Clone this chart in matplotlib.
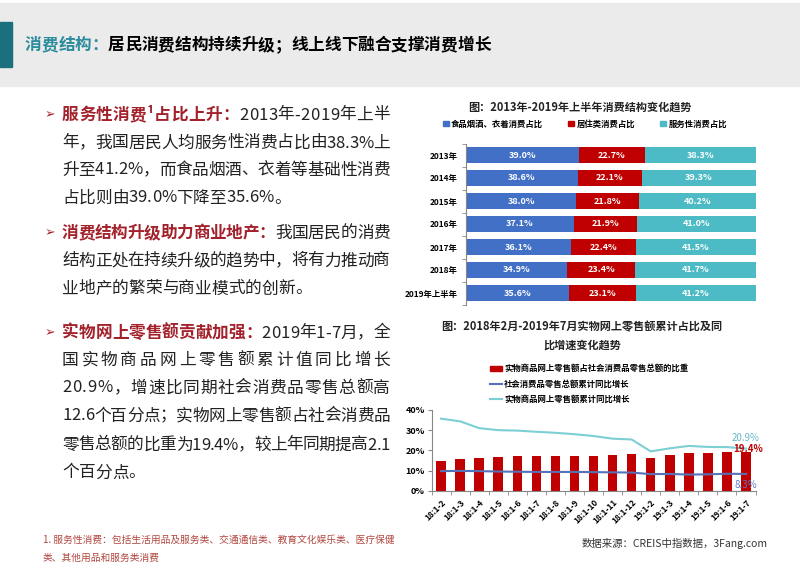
import matplotlib
matplotlib.use("Agg")
import matplotlib.pyplot as plt
from matplotlib.patches import Rectangle, Patch
from matplotlib.lines import Line2D
import numpy as np

plt.rcParams['font.family'] = ['Noto Sans CJK SC', 'DejaVu Sans']

# chart 1: consumption structure
years = ["2013年", "2014年", "2015年", "2016年", "2017年", "2018年", "2019年上半年"]
food = [39.0, 38.6, 38.0, 37.1, 36.1, 34.9, 35.6]
housing = [22.7, 22.1, 21.8, 21.9, 22.4, 23.4, 23.1]
service = [38.3, 39.3, 40.2, 41.0, 41.5, 41.7, 41.2]
names1 = ["食品烟酒、衣着消费占比", "居住类消费占比", "服务性消费占比"]

# chart 2: online retail
months = ["18:1-2", "18:1-3", "18:1-4", "18:1-5", "18:1-6", "18:1-7", "18:1-8", "18:1-9",
          "18:1-10", "18:1-11", "18:1-12", "19:1-2", "19:1-3", "19:1-4", "19:1-5",
          "19:1-6", "19:1-7"]
online_share = [14.8, 15.8, 16.1, 16.5, 17.1, 17.2, 17.2, 17.3, 17.3, 17.9, 18.2,
                16.4, 17.9, 18.5, 18.5, 19.3, 19.4]
retail_growth = [9.7, 9.8, 9.7, 9.5, 9.4, 9.3, 9.3, 9.3, 9.2, 9.1, 9.0,
                 8.2, 8.3, 8.0, 8.1, 8.4, 8.3]
online_growth = [35.7, 34.4, 31.0, 30.0, 29.8, 29.2, 28.7, 28.0, 27.1, 25.8, 25.4,
                 19.5, 21.0, 22.2, 21.7, 21.6, 20.9]
names2 = ["实物商品网上零售额占社会消费品零售总额的比重", "社会消费品零售总额累计同比增长",
          "实物商品网上零售额累计同比增长"]

W, H = 800, 565
blue = '#4170C6'
red = '#C00000'
teal = '#4DBBC5'
dark_red = '#A3212B'
body_col = '#222222'


def fx(x):
    return x / W


def fy(y):
    return 1 - y / H


fig = plt.figure(figsize=(8, 5.65), dpi=100)
renderer = fig.canvas.get_renderer()


def text_width(s, **kw):
    t = fig.text(0, 0, s, **kw)
    w = t.get_window_extent(renderer).width
    t.remove()
    return w


def adv(s, **kw):
    return text_width("国" + s + "国", **kw) - text_width("国国", **kw)


def draw_line(segs, y, x0=62, x1=390, justify=True):
    chars = []
    start = 0
    for s, kw in segs:
        for i, ch in enumerate(s):
            chars.append((ch, kw, start + adv(s[:i], **kw) if i else start))
        start += adv(s, **kw)
    gap = 0
    if justify and len(chars) > 1:
        gap = (x1 - x0 - start) / (len(chars) - 1)
    for i, (ch, kw, off) in enumerate(chars):
        fig.text(fx(x0 + off + i * gap), fy(y), ch, va='center', ha='left', **kw)


# header
fig.patches.append(Rectangle((0, fy(86)), 1, 83 / H, transform=fig.transFigure,
                             color='#EBEBEB', zorder=0))
fig.patches.append(Rectangle((0, fy(67)), 12 / W, 45 / H, transform=fig.transFigure,
                             color='#1B6F7F', zorder=1))
hk = dict(fontsize=12, weight='bold')
draw_line([("消费结构：", dict(hk, color='#2A8C9C')),
           ("居民消费结构持续升级；线上线下融合支撑消费增长", dict(hk, color='black'))],
          45, x0=25, justify=False)

# left text
nk = dict(fontsize=12, color=body_col)
bk = dict(fontsize=12, color=dark_red, weight='bold')
paras = [
    [([("服务性消费¹占比上升：", bk), ("2013年-2019年上半", nk)], 115, True),
     ([("年，我国居民人均服务性消费占比由38.3%上", nk)], 143, True),
     ([("升至41.2%，而食品烟酒、衣着等基础性消费", nk)], 170, True),
     ([("占比则由39.0%下降至35.6%。", nk)], 198, False)],
    [([("消费结构升级助力商业地产：", bk), ("我国居民的消费", nk)], 233, True),
     ([("结构正处在持续升级的趋势中，将有力推动商", nk)], 261, True),
     ([("业地产的繁荣与商业模式的创新。", nk)], 289, False)],
    [([("实物网上零售额贡献加强：", bk), ("2019年1-7月，全", nk)], 333, True),
     ([("国实物商品网上零售额累计值同比增长", nk)], 360, True),
     ([("20.9%，增速比同期社会消费品零售总额高", nk)], 388, True),
     ([("12.6个百分点；实物网上零售额占社会消费品", nk)], 416, True),
     ([("零售总额的比重为19.4%，较上年同期提高2.1", nk)], 445, True),
     ([("个百分点。", nk)], 473, False)],
]
for para in paras:
    fig.text(fx(45), fy(para[0][1]), "➢", fontsize=9, color=dark_red, va='center',
             ha='left', family=['DejaVu Sans'])
    for segs, y, just in para:
        draw_line(segs, y, justify=just)

fk = dict(fontsize=7, color='#B0463F')
fig.text(fx(43), fy(540), "1. 服务性消费：包括生活用品及服务类、交通通信类、教育文化娱乐类、医疗保健",
         va='center', **fk)
fig.text(fx(43), fy(558), "类、其他用品和服务类消费", va='center', **fk)

# chart 1
fig.text(fx(580), fy(107), "图：2013年-2019年上半年消费结构变化趋势", ha='center', va='center',
         fontsize=8, weight='bold', color='#222222')
ax1 = fig.add_axes([fx(466), fy(304.5), 290 / W, 161 / H])
yy = np.arange(len(years))
left2 = np.array(food)
left3 = left2 + np.array(housing)
ax1.barh(yy, food, height=0.66, color=blue)
ax1.barh(yy, housing, left=left2, height=0.66, color=red)
ax1.barh(yy, service, left=left3, height=0.66, color=teal)
for i in range(len(years)):
    for v, l in ((food[i], 0), (housing[i], left2[i]), (service[i], left3[i])):
        ax1.text(l + v / 2, i, f"{v:.1f}%", ha='center', va='center', color='white',
                 fontsize=6.5, weight='bold')
ax1.set_xlim(0, 100)
ax1.set_ylim(6.5, -0.5)
ax1.set_xticks([])
ax1.set_yticks(yy)
ax1.set_yticklabels(years, fontsize=6, weight='bold')
ax1.set_yticks(np.arange(-0.5, 7, 1), minor=True)
ax1.tick_params(axis='y', which='major', length=0, pad=6)
ax1.tick_params(axis='y', which='minor', length=3, color='#888888')
for s in ('top', 'right', 'bottom'):
    ax1.spines[s].set_visible(False)
ax1.spines['left'].set_color('#888888')
ax1.spines['left'].set_linewidth(0.8)

h1 = [Patch(color=c) for c in (blue, red, teal)]
fig.legend(h1, names1, loc='center', bbox_to_anchor=(fx(585), fy(124)), ncol=3,
           frameon=False, prop=dict(size=6, weight='bold'), handlelength=0.7,
           handleheight=0.7, handletextpad=0.3, columnspacing=3.0, borderpad=0)

# chart 2
fig.text(fx(582), fy(327), "图：2018年2月-2019年7月实物网上零售额累计占比及同", ha='center',
         va='center', fontsize=8, weight='bold', color='#222222')
fig.text(fx(582), fy(345), "比增速变化趋势", ha='center', va='center', fontsize=8,
         weight='bold', color='#222222')
ax2 = fig.add_axes([fx(431.5), fy(490.7), 324 / W, 80.7 / H])
xx = np.arange(len(months))
ax2.bar(xx, online_share, width=0.5, color=red, zorder=2)
ax2.plot(xx, retail_growth, color='#5571B8', lw=1.5, zorder=3)
ax2.plot(xx, online_growth, color='#7CCFD3', lw=1.5, zorder=3)
ax2.set_xlim(-0.5, 16.5)
ax2.set_ylim(0, 40)
ax2.set_yticks([0, 10, 20, 30, 40])
ax2.set_yticklabels([f"{v}%" for v in (0, 10, 20, 30, 40)], fontsize=6.5, weight='bold')
ax2.set_xticks(xx)
ax2.set_xticklabels(months, rotation=45, ha='right', va='top', rotation_mode='anchor',
                    fontsize=6, weight='bold')
ax2.set_xticks(np.arange(-0.5, 17, 1), minor=True)
ax2.tick_params(axis='x', which='major', length=0, pad=5)
ax2.tick_params(axis='x', which='minor', length=3, color='#888888')
ax2.tick_params(axis='y', length=3, color='#888888', pad=2)
for s in ('top', 'right'):
    ax2.spines[s].set_visible(False)
for s in ('left', 'bottom'):
    ax2.spines[s].set_color('#888888')
    ax2.spines[s].set_linewidth(0.8)

n = len(months) - 1
ax2.annotate(f"{online_growth[n]:.1f}%", (n, online_growth[n]), xytext=(0, 7.5),
             textcoords='offset points', ha='center', va='center', fontsize=7,
             color='#6BB7C9')
ax2.annotate(f"{online_share[n]:.1f}%", (n, online_share[n]), xytext=(1.5, 1.5),
             textcoords='offset points', ha='center', va='center', fontsize=7,
             color=red, weight='bold', zorder=5)
ax2.annotate(f"{retail_growth[n]:.1f}%", (n, retail_growth[n]), xytext=(0, -8),
             textcoords='offset points', ha='center', va='center', fontsize=7,
             color='#5A78C0', zorder=5)

h2 = [Patch(color=red), Line2D([], [], color='#5571B8', lw=1.5),
      Line2D([], [], color='#7CCFD3', lw=1.5)]
fig.legend(h2, names2, loc='upper left', bbox_to_anchor=(fx(486), fy(360)),
           frameon=False, prop=dict(size=6, weight='bold'), handlelength=1.4,
           handleheight=0.6, handletextpad=0.3, labelspacing=0.75, borderpad=0)

fig.text(fx(582), fy(543), "数据来源：CREIS中指数据，3Fang.com", va='center', ha='left',
         fontsize=7.5, color='#333333')

fig.savefig("out.png", dpi=100)
